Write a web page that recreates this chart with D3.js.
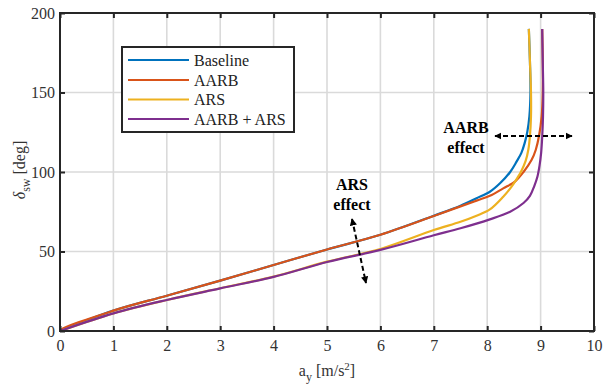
<!DOCTYPE html>
<html>
<head>
<meta charset="utf-8">
<script src="https://cdn.jsdelivr.net/npm/d3@7/dist/d3.min.js"></script>
<style>
  html, body { margin: 0; padding: 0; background: #fff; }
  svg text { font-family: "Liberation Serif", "Times New Roman", "DejaVu Serif", serif; }
</style>
</head>
<body>
<svg id="chart" width="603" height="387"></svg>
<script>
// Steering-wheel angle vs. lateral acceleration for four controller setups.
// Each point is [a_y (m/s^2), delta_sw (deg)].
const seriesNames = ["Baseline", "AARB", "ARS", "AARB + ARS"];
const seriesColors = ["#0072BD", "#D95319", "#EDB120", "#7E2F8E"];

const baseline = [
  [0, 0], [1, 12.8], [2, 22.2], [3, 31.7], [4, 41.5], [5, 51.3], [6, 60.5],
  [7, 72.5], [7.5, 78.8], [7.8, 83.5], [8.05, 87.6], [8.24, 92.9], [8.43, 100], [8.55, 106.5],
  [8.64, 112], [8.7, 118], [8.75, 125], [8.79, 135], [8.81, 150], [8.8, 170], [8.78, 190]
];
const aarb = [
  [0.3, 0], [0, 0.3], [1, 12.8], [2, 22.2], [3, 31.7], [4, 41.5], [5, 51.3], [6, 60.5],
  [7, 72.3], [7.5, 78.4], [7.8, 82], [8.05, 85], [8.3, 89.7], [8.52, 94], [8.68, 100],
  [8.83, 107.5], [8.91, 114], [8.97, 122.6], [9.02, 135], [9.04, 150], [9.04, 170], [9.03, 190]
];
const ars = [
  [0, 0], [1, 11.1], [2, 19.5], [3, 26.9], [4, 34.2], [5, 43.6], [6, 51.6],
  [7, 63.5], [7.5, 68.7], [7.8, 72.5], [8.05, 76.5], [8.3, 84.5], [8.45, 90.5], [8.56, 96], [8.63, 100],
  [8.72, 107], [8.77, 114], [8.8, 122.6], [8.82, 135], [8.82, 150], [8.8, 170], [8.78, 190]
];
const aarbArs = [
  [0, 0], [1, 11.1], [2, 19.5], [3, 26.8], [4, 34], [5, 43.4], [6, 51],
  [7, 60.2], [7.5, 64.6], [8.05, 70.2], [8.43, 75], [8.68, 80.5], [8.8, 85], [8.88, 91],
  [8.94, 97], [8.98, 104], [9.01, 112], [9.03, 122], [9.045, 135], [9.05, 150], [9.04, 170], [9.03, 190]
];
const seriesData = [baseline, aarb, ars, aarbArs];

const xTicks = [0, 1, 2, 3, 4, 5, 6, 7, 8, 9, 10];
const yTicks = [0, 50, 100, 150, 200];

const svg = d3.select("#chart");
const M = { left: 60, top: 13, right: 594, bottom: 331 };

const x = d3.scaleLinear().domain([0, 10]).range([M.left, M.right]);
const y = d3.scaleLinear().domain([0, 200]).range([M.bottom, M.top]);

const ink = "#262626";
const serif = "Liberation Serif";

// Grid
const grid = svg.append("g");
grid.selectAll("line.gx").data(xTicks.slice(1, -1)).join("line")
  .attr("x1", d => x(d)).attr("x2", d => x(d))
  .attr("y1", M.top).attr("y2", M.bottom)
  .attr("stroke", "#dadada").attr("stroke-width", 1.6);
grid.selectAll("line.gy").data(yTicks.slice(1, -1)).join("line")
  .attr("y1", d => y(d)).attr("y2", d => y(d))
  .attr("x1", M.left).attr("x2", M.right)
  .attr("stroke", "#dadada").attr("stroke-width", 1.6);

// Curves
const line = d3.line()
  .x(d => x(d[0])).y(d => y(d[1]))
  .curve(d3.curveCatmullRom.alpha(0.5));
svg.append("clipPath").attr("id", "plotclip")
  .append("rect").attr("x", M.left).attr("y", M.top)
  .attr("width", M.right - M.left).attr("height", M.bottom - M.top);
svg.append("g").attr("clip-path", "url(#plotclip)")
  .selectAll("path").data(seriesData).join("path")
  .attr("d", d => line(d))
  .attr("fill", "none")
  .attr("stroke", (d, i) => seriesColors[i])
  .attr("stroke-width", 2.2);

// Axes with inward ticks on all four sides
const tickLen = 5;
const axB = svg.append("g").attr("transform", `translate(0,${M.bottom})`)
  .call(d3.axisBottom(x).tickValues(xTicks).tickSizeInner(-tickLen).tickSizeOuter(0).tickPadding(9));
const axT = svg.append("g").attr("transform", `translate(0,${M.top})`)
  .call(d3.axisTop(x).tickValues(xTicks).tickSizeInner(-tickLen).tickSizeOuter(0).tickFormat(""));
const axL = svg.append("g").attr("transform", `translate(${M.left},0)`)
  .call(d3.axisLeft(y).tickValues(yTicks).tickSizeInner(-tickLen).tickSizeOuter(0).tickPadding(5));
const axR = svg.append("g").attr("transform", `translate(${M.right},0)`)
  .call(d3.axisRight(y).tickValues(yTicks).tickSizeInner(-tickLen).tickSizeOuter(0).tickFormat(""));
[axB, axT, axL, axR].forEach(a => {
  a.attr("font-family", serif).attr("font-size", 16);
  a.select(".domain").remove();
  a.selectAll(".tick line").attr("stroke", ink).attr("stroke-width", 2);
  a.selectAll(".tick text").attr("fill", "#333");
});

// Frame
svg.append("rect")
  .attr("x", M.left).attr("y", M.top)
  .attr("width", M.right - M.left).attr("height", M.bottom - M.top)
  .attr("fill", "none").attr("stroke", ink).attr("stroke-width", 2);

// Axis labels
const xl = svg.append("text").attr("x", 327).attr("y", 376)
  .attr("text-anchor", "middle").attr("fill", "#333")
  .attr("font-family", serif).attr("font-size", 16);
xl.append("tspan").text("a");
xl.append("tspan").attr("dy", 5).attr("font-size", 12).text("y");
xl.append("tspan").attr("dy", -5).text(" [m/s");
xl.append("tspan").attr("dy", -6).attr("font-size", 11).text("2");
xl.append("tspan").attr("dy", 6).text("]");

const yl = svg.append("text")
  .attr("transform", "translate(25,170) rotate(-90)")
  .attr("text-anchor", "middle").attr("fill", "#333")
  .attr("font-family", serif).attr("font-size", 16);
yl.append("tspan").attr("font-style", "italic").text("δ");
yl.append("tspan").attr("dy", 5).attr("font-size", 12).text("sw");
yl.append("tspan").attr("dy", -5).text(" [deg]");

// Legend
const lg = svg.append("g").attr("font-family", serif).attr("font-size", 16);
lg.append("rect").attr("x", 122).attr("y", 47).attr("width", 172).attr("height", 85)
  .attr("fill", "#fff").attr("stroke", ink).attr("stroke-width", 2);
const rows = [60, 80, 99.5, 119];
seriesNames.forEach((name, i) => {
  lg.append("line").attr("x1", 128).attr("x2", 189)
    .attr("y1", rows[i]).attr("y2", rows[i])
    .attr("stroke", seriesColors[i]).attr("stroke-width", 2.2);
  lg.append("text").attr("x", 194).attr("y", rows[i] + 5.5)
    .attr("fill", "#222").text(name);
});

// Annotations
svg.append("defs").append("marker")
  .attr("id", "ah").attr("viewBox", "0 0 10 10").attr("refX", 9).attr("refY", 5)
  .attr("markerWidth", 3.6).attr("markerHeight", 3.6).attr("orient", "auto-start-reverse")
  .append("path").attr("d", "M0,0 L10,5 L0,10 Z").attr("fill", "#000");

function note(lines, cx, cy) {
  const t = svg.append("text").attr("text-anchor", "middle").attr("fill", "#000")
    .attr("font-family", serif).attr("font-size", 16).attr("font-weight", "bold");
  lines.forEach((s, i) => t.append("tspan").attr("x", cx).attr("y", cy + i * 20).text(s));
}
note(["AARB", "effect"], 466, 133);
note(["ARS", "effect"], 352, 190);

svg.append("line").attr("x1", 495).attr("y1", 136).attr("x2", 572).attr("y2", 136)
  .attr("stroke", "#000").attr("stroke-width", 2).attr("stroke-dasharray", "5,3")
  .attr("marker-start", "url(#ah)").attr("marker-end", "url(#ah)");
svg.append("line").attr("x1", 352).attr("y1", 219).attr("x2", 366).attr("y2", 283)
  .attr("stroke", "#000").attr("stroke-width", 2).attr("stroke-dasharray", "5,3")
  .attr("marker-start", "url(#ah)").attr("marker-end", "url(#ah)");
</script>
</body>
</html>
